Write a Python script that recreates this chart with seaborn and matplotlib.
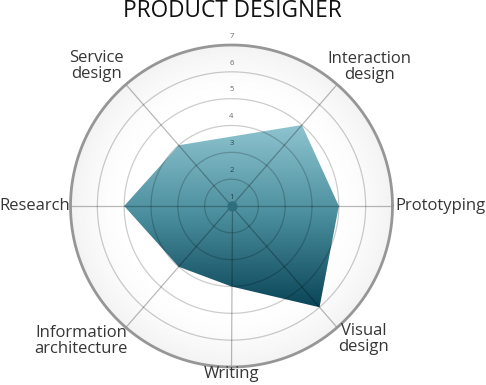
import numpy as np
import matplotlib
matplotlib.use("Agg")
import matplotlib.pyplot as plt
import seaborn as sns
from matplotlib.colors import LinearSegmentedColormap

sns.set_theme(style="white")
plt.rcParams['font.family'] = ['Open Sans', 'DejaVu Sans']

# ---- data ----
categories = ["Prototyping", "Interaction\ndesign", "Service\ndesign", "Research",
              "Information\narchitecture", "Writing", "Visual\ndesign"]
scores = [5, 5, 4, 5, 4, 4, 6]
angles_deg = [0, 49, 131, 180, 229, 270, 311]
ring_ticks = [1, 2, 3, 4, 5, 6, 7]
title = "PRODUCT DESIGNER"

# label layout (angle deg, radius px, ha)
label_layout = [(0, 163.5, 'left'), (45.3, 195.5, 'center'), (134, 194.8, 'center'),
                (180, 161.5, 'right'), (221.9, 202, 'center'), (270, 168, 'center'),
                (314.9, 187.7, 'center')]

W, H = 486, 385
fig = plt.figure(figsize=(W / 100, H / 100), dpi=100)
cx, cy, R = 231.5, 206, 161
ax = fig.add_axes([(cx - R) / W, (H - cy - R) / H, 2 * R / W, 2 * R / H], projection='polar')
ax.set_facecolor('none')
ax.spines['polar'].set_visible(False)
ax.grid(False)
rmin, rmax = ring_ticks[0], ring_ticks[-1]

def px2r(p):
    return rmin + p / R * (rmax - rmin)

# background radial gradient
th = np.linspace(0, 2 * np.pi, 181)
rr = np.linspace(rmin, rmax, 61)
T, RG = np.meshgrid(th, rr)
Z = np.clip((RG - 5.0) / 2.0, 0, 1) ** 1.5
bgcmap = LinearSegmentedColormap.from_list('bg', ['#ffffff', '#f3f3f3'])
ax.pcolormesh(T, RG, Z, cmap=bgcmap, shading='gouraud', zorder=0, vmin=0, vmax=1)

theta = np.deg2rad(angles_deg)
th_closed = np.append(theta, theta[0])
sc_closed = np.append(scores, scores[0])
poly = ax.fill(th_closed, sc_closed, facecolor='none', edgecolor='none', zorder=1)[0]
ax.set_ylim(rmin, rmax)
ax.set_xticks([])
ax.set_yticks([])

# gradient fill clipped to polygon
disp = ax.transData.transform(np.column_stack([theta, scores]))
axc = ax.transAxes.inverted().transform(disp)
y0, y1 = axc[:, 1].min(), axc[:, 1].max()
grad = np.linspace(0, 1, 256).reshape(-1, 1)
polycmap = LinearSegmentedColormap.from_list('teal', ['#8fc4d0', '#4a8e9d', '#0a4558'])
im = ax.imshow(grad, cmap=polycmap, extent=[0, 1, y0, y1], transform=ax.transAxes,
               aspect='auto', zorder=1, origin='upper', interpolation='bilinear')
im.set_clip_path(poly)
ax.set_autoscale_on(False)
ax.set_ylim(rmin, rmax)
ax.set_xlim(0, 2 * np.pi)

# rings
thf = np.linspace(0, 2 * np.pi, 721)
for k in ring_ticks[1:-1]:
    ax.plot(thf, np.full_like(thf, k), color='black', alpha=0.2, lw=0.9, zorder=3)
ax.plot(thf, np.full_like(thf, rmax), color='#969696', lw=2.0, zorder=4, clip_on=False)

# spokes
for t in theta:
    ax.plot([t, t], [rmin, rmax], color='black', alpha=0.27, lw=0.9, zorder=3)

# center dot
ax.scatter([0], [rmin], s=55, color='#2f6e7d', zorder=5, clip_on=False, linewidths=0)

# ring labels
for k in ring_ticks:
    ax.annotate(str(k), xy=(np.pi / 2, k), xytext=(0, 6.3), textcoords='offset points',
                ha='center', va='center', fontsize=5.5, color='black', alpha=0.6, zorder=6)

# category labels
for lab, (a, rp, ha) in zip(categories, label_layout):
    ax.text(np.deg2rad(a), px2r(rp), lab, ha=ha, va='center', fontsize=12,
            color='#363636', linespacing=0.95, clip_on=False, zorder=6)

fig.text(232 / W, 1 - 11 / H, title, ha='center', va='center', fontsize=16.3, color='#111111')

fig.savefig('out.png', dpi=100, facecolor='white')
